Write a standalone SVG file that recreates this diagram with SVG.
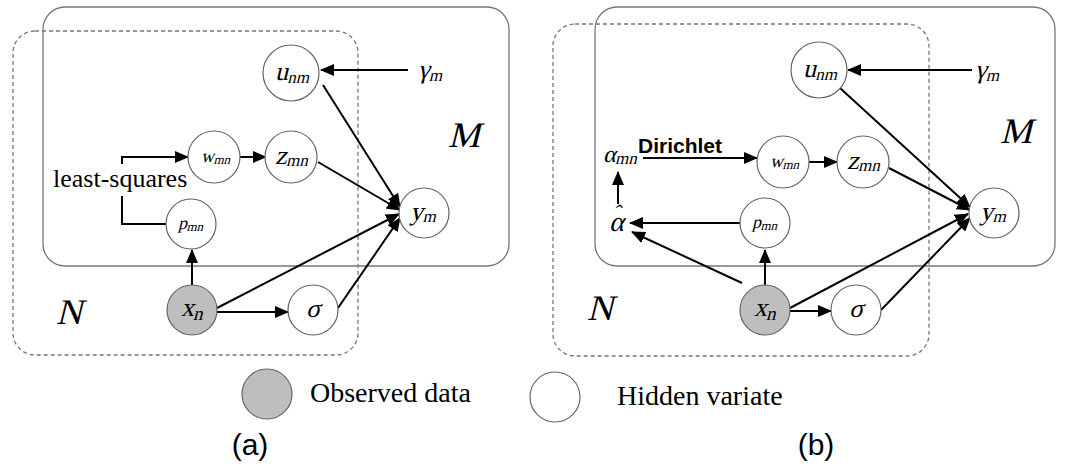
<svg xmlns="http://www.w3.org/2000/svg" width="1070" height="469" viewBox="0 0 1070 469">
<style>
.plate{fill:none;stroke:#777;stroke-width:1.3}
.dash{stroke-dasharray:4 3}
.nd{fill:#fff;stroke:#666;stroke-width:1.2}
.obs{fill:#bebebe;stroke:#666;stroke-width:1.2}
.e{stroke:#000;stroke-width:2;fill:none;marker-end:url(#ah)}
.l{stroke:#000;stroke-width:2;fill:none}
.s{font-family:"Liberation Serif",serif;fill:#000}
.t{font-family:"Liberation Serif",serif;fill:#000}
.cap{font-family:"Liberation Sans",sans-serif;font-size:30px;fill:#000}
</style>
<defs>
<marker id="ah" markerWidth="14" markerHeight="12" refX="13" refY="6" orient="auto" markerUnits="userSpaceOnUse">
<path d="M0,0 L14,6 L0,12 Z" fill="#000"/>
</marker>
</defs>
<rect width="1070" height="469" fill="#fff"/>

<g id="a-plateM"><rect class="plate" x="43" y="7" width="466" height="259" rx="22"/><text class="s" transform="translate(448,147) skewX(-14)" font-size="36">M</text></g>
<g id="a-plateN"><rect class="plate dash" x="13" y="31" width="345" height="324" rx="22"/><text class="s" transform="translate(56,324) skewX(-14)" font-size="36">N</text></g>

<g id="b-plateM"><rect class="plate" x="595" y="7" width="460" height="259" rx="22"/><text class="s" transform="translate(1000,143) skewX(-14)" font-size="36">M</text></g>
<g id="b-plateN"><rect class="plate dash" x="553" y="24" width="376" height="332" rx="22"/><text class="s" transform="translate(587,320) skewX(-14)" font-size="36">N</text></g>

<g id="connectors">
<line class="e" x1="408" y1="70" x2="321" y2="70"/>
<line class="e" x1="323" y1="85" x2="400" y2="207"/>
<line class="e" x1="318" y1="162" x2="400" y2="210"/>
<line class="e" x1="217" y1="308" x2="399" y2="214"/>
<line class="e" x1="338" y1="308" x2="400" y2="218"/>
<line class="e" x1="192" y1="286" x2="192" y2="250"/>
<line class="e" x1="217" y1="312" x2="288" y2="312"/>
<line class="e" x1="240" y1="157" x2="266" y2="157"/>
<polyline class="e" points="122,164 122,157 188,157"/>
<polyline class="l" points="122,196 122,224 167,224"/>
<line class="e" x1="972" y1="70" x2="848" y2="70"/>
<line class="e" x1="840" y1="88" x2="970" y2="207"/>
<line class="e" x1="889" y1="168" x2="970" y2="210"/>
<line class="e" x1="790" y1="308" x2="968" y2="214"/>
<line class="e" x1="881" y1="310" x2="970" y2="218"/>
<line class="e" x1="765" y1="286" x2="765" y2="250"/>
<line class="e" x1="790" y1="311" x2="831" y2="311"/>
<line class="e" x1="809" y1="162" x2="837" y2="162"/>
<line class="e" x1="643" y1="158" x2="757" y2="158"/>
<line class="e" x1="740" y1="223" x2="630" y2="223"/>
<line class="e" x1="742" y1="283" x2="632" y2="232"/>
<line class="e" x1="618" y1="204" x2="618" y2="172"/>
</g>

<g id="a-unm"><circle class="nd" cx="291" cy="73" r="28"/><text class="s" transform="translate(275,80) skewX(-14)" font-size="26">u<tspan font-size="17" dy="3">nm</tspan></text></g>
<g id="a-gamma"><text class="s" transform="translate(418,78) skewX(-14)" font-size="26">γ<tspan font-size="17" dy="3">m</tspan></text></g>
<g id="a-wmn"><circle class="nd" cx="214" cy="157" r="26"/><text class="s" transform="translate(201,162) skewX(-14)" font-size="18">w<tspan font-size="13" dy="2">mn</tspan></text></g>
<g id="a-zmn"><circle class="nd" cx="291" cy="157" r="26"/><text class="s" transform="translate(275,164) skewX(-14)" font-size="26">z<tspan font-size="17" dy="2">mn</tspan></text></g>
<g id="a-ym"><circle class="nd" cx="424" cy="213" r="25"/><text class="s" transform="translate(410,220) skewX(-14)" font-size="26">y<tspan font-size="17" dy="2">m</tspan></text></g>
<g id="a-pmn"><circle class="nd" cx="191" cy="224" r="25"/><text class="s" transform="translate(178,229) skewX(-14)" font-size="18">p<tspan font-size="13" dy="2">mn</tspan></text></g>
<g id="a-ls"><text class="t" x="53" y="187" font-size="26">least-squares</text></g>
<g id="a-xn"><circle class="obs" cx="192" cy="310" r="25"/><text class="s" transform="translate(181,316) skewX(-14)" font-size="26">x<tspan font-size="19" dy="4">n</tspan></text></g>
<g id="a-sigma"><circle class="nd" cx="313" cy="310" r="25"/><text class="s" transform="translate(306,317) skewX(-14)" font-size="26">σ</text></g>

<g id="b-unm"><circle class="nd" cx="819" cy="70" r="28"/><text class="s" transform="translate(803,77) skewX(-14)" font-size="26">u<tspan font-size="17" dy="3">nm</tspan></text></g>
<g id="b-gamma"><text class="s" transform="translate(975,78) skewX(-14)" font-size="26">γ<tspan font-size="17" dy="3">m</tspan></text></g>
<g id="b-wmn"><circle class="nd" cx="783" cy="162" r="26"/><text class="s" transform="translate(770,167) skewX(-14)" font-size="18">w<tspan font-size="13" dy="2">mn</tspan></text></g>
<g id="b-zmn"><circle class="nd" cx="863" cy="162" r="26"/><text class="s" transform="translate(847,169) skewX(-14)" font-size="26">z<tspan font-size="17" dy="2">mn</tspan></text></g>
<g id="b-ym"><circle class="nd" cx="994" cy="213" r="25"/><text class="s" transform="translate(980,220) skewX(-14)" font-size="26">y<tspan font-size="17" dy="2">m</tspan></text></g>
<g id="b-pmn"><circle class="nd" cx="765" cy="223" r="25"/><text class="s" transform="translate(752,228) skewX(-14)" font-size="18">p<tspan font-size="13" dy="2">mn</tspan></text></g>
<g id="b-amn"><text class="s" transform="translate(603,162) skewX(-14)" font-size="24">α<tspan font-size="17" dy="2">mn</tspan></text></g>
<g id="b-dir"><text x="638" y="153" font-family="Liberation Sans,sans-serif" font-weight="bold" font-size="21">Dirichlet</text></g>
<g id="b-ahat"><text class="s" transform="translate(609,231) skewX(-14)" font-size="28">α<tspan font-size="22" dx="-14" dy="-11">ˆ</tspan></text></g>
<g id="b-xn"><circle class="obs" cx="765" cy="310" r="25"/><text class="s" transform="translate(754,316) skewX(-14)" font-size="26">x<tspan font-size="19" dy="4">n</tspan></text></g>
<g id="b-sigma"><circle class="nd" cx="856" cy="310" r="25"/><text class="s" transform="translate(849,317) skewX(-14)" font-size="26">σ</text></g>

<g id="leg-obs"><circle class="obs" cx="267" cy="394" r="25"/><text class="t" x="310" y="402" font-size="28">Observed data</text></g>
<g id="leg-hid"><circle class="nd" cx="555" cy="397" r="25"/><text class="t" x="617" y="405" font-size="28">Hidden variate</text></g>

<text class="cap" x="250" y="455" text-anchor="middle">(a)</text>
<text class="cap" x="816" y="455" text-anchor="middle">(b)</text>
</svg>
